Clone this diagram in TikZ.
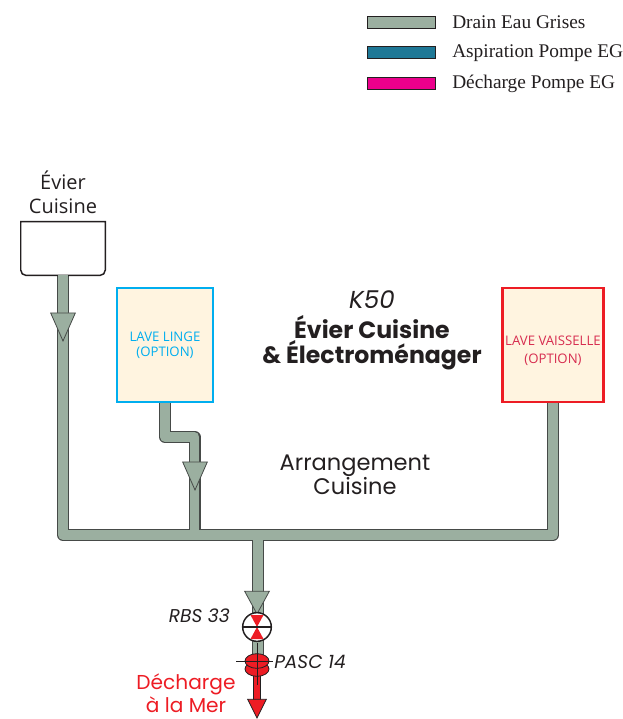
\documentclass[tikz,border=0pt]{standalone}
\usepackage{fontspec}
\setmainfont{Liberation Serif}
\newfontfamily\titrefont{Poppins}
\newfontfamily\myriadfont{Open Sans}
\usetikzlibrary{shapes.geometric,positioning}
\definecolor{drainfill}{RGB}{155,175,160}
\definecolor{drainedge}{RGB}{70,74,72}
\definecolor{aspfill}{RGB}{30,120,150}
\definecolor{decfill}{RGB}{236,0,140}
\definecolor{rouge}{RGB}{237,28,36}
\definecolor{creme}{RGB}{255,244,224}
\definecolor{cyanbox}{RGB}{0,174,239}
\definecolor{encre}{RGB}{35,31,32}
\definecolor{vaisstxt}{RGB}{215,45,80}

\begin{document}
\begin{tikzpicture}[
    x=0.75pt, y=-0.75pt,
    pipeout/.style={line width=9pt, drainedge, line join=round},
    pipein/.style={line width=7.4pt, drainfill, line join=round},
    legbar/.style={draw=encre, line width=0.6pt, minimum width=51pt, minimum height=9pt, inner sep=0pt},
    legtxt/.style={anchor=west, inner sep=0pt, font=\fontsize{14.5}{16}\selectfont, text=encre},
    appareil/.style={rectangle, line width=1.9pt, fill=creme, minimum width=72pt, minimum height=85.5pt,
               align=center, inner sep=0pt, font=\myriadfont\fontsize{9.9}{11.3}\selectfont},
    fleche/.style={isosceles triangle, isosceles triangle stretches, shape border rotate=-90, draw=drainedge,
               line width=0.6pt, fill=drainfill, minimum width=18.5pt, minimum height=21pt, inner sep=0pt},
    titre/.style={align=center, inner sep=0pt, text=encre, font=\titrefont\fontsize{16.9}{18.2}\selectfont},
    repere/.style={inner sep=0pt, text=encre, font=\titrefont\itshape\fontsize{13.9}{14}\selectfont}
]
\useasboundingbox (0,0) rectangle (623,719);

% legende
\node[legbar, fill=drainfill] (legdrain) at (401.5,22) {};
\node[legbar, fill=aspfill, below=13.5pt of legdrain] (legasp) {};
\node[legbar, fill=decfill, below=13.5pt of legasp] (legdec) {};
\node[legtxt] (txtdrain) at (452,22.5) {Drain Eau Grises};
\node[legtxt] (txtasp) at (452,53) {Aspiration Pompe EG};
\node[legtxt] (txtdec) at (452,83.5) {Décharge Pompe EG};

% appareils
\node[inner sep=0pt, minimum width=63pt, minimum height=40pt] (evier) at (63,248.5) {};
\node[appareil, draw=cyanbox, text=cyanbox] (linge) at (165,345) {LAVE LINGE\\(OPTION)};
\node[appareil, draw=rouge, minimum width=75.5pt] (vaisselle) at (553,345) {};
\node[appareil, draw=none, fill=none, minimum width=0pt, minimum height=0pt, text=vaisstxt, font=\myriadfont\fontsize{9.9}{13.5}\selectfont] (txtvaisselle) at (553,351) {LAVE VAISSELLE\\(OPTION)};
\coordinate (coudehaut) at (linge.south |- 0,437);
\coordinate (coudebas) at (194.5,437);
\coordinate (tlinge) at (194.5,535);
\coordinate (coingauche) at (evier.south |- tlinge);
\coordinate (coindroit) at (vaisselle.south |- tlinge);
\coordinate (tcentre) at (258,535);
\coordinate (sousvanne) at (258,660);

% tuyaux
\foreach \passe in {pipeout,pipein} {
    \draw[\passe] (evier.south) -- (coingauche) -- (coindroit) -- (vaisselle.south);
    \draw[\passe] (linge.south) -- (coudehaut) -- (coudebas) -- (tlinge);
    \draw[\passe] (tcentre) -- (sousvanne);
}

\draw[encre, line width=1.1pt, fill=white] (evier.north west) [rounded corners=4pt] -- (evier.south west) -- (evier.south east) [sharp corners] -- (evier.north east) -- cycle;
\node[align=center, inner sep=0pt, text=encre, font=\myriadfont\fontsize{15}{18}\selectfont, above=5.5pt of evier] (txtevier) {Évier\\Cuisine};
\draw[drainfill, line width=7pt] (evier.south) -- ++(0,3);

\node[fleche, anchor=apex] (flecheevier) at (63,342) {};
\node[fleche, anchor=apex] (flechelinge) at (195,491) {};
\node[fleche, anchor=apex, minimum height=17pt] (flechevanne) at (257,615) {};

% vanne RBS
\node[circle, draw=encre, line width=1.1pt, fill=white, minimum size=21.5pt, inner sep=0pt] (vanne) at (257,627) {};
\fill[rouge] (vanne.center) -- (250.5,615) -- (263.5,615) -- cycle;
\fill[rouge] (vanne.center) -- (250.5,639) -- (263.5,639) -- cycle;
\draw[encre, line width=1.1pt] (vanne.west) -- (vanne.east);
\node[repere, anchor=east] (txtrbs) at (230,615.5) {RBS 33};

% sortie
\draw[encre, line width=5.6pt] (257,672) -- (257,703);
\draw[rouge, line width=4.6pt] (257,672) -- (257,703);
\node[ellipse, draw=encre, line width=0.6pt, fill=rouge, minimum width=18pt, minimum height=11pt, inner sep=0pt] (pasbas) at (257,669) {};
\node[ellipse, draw=encre, line width=0.6pt, fill=rouge, minimum width=18pt, minimum height=11pt, inner sep=0pt] (pashaut) at (257,661) {};
\draw[encre, line width=0.5pt] (236,661) -- (273,661);
\draw[encre, line width=0.5pt] (257,643) -- (257,685);
\node[repere, anchor=west] (txtpasc) at (274,662) {PASC 14};
\node[fleche, anchor=apex, fill=rouge, draw=encre, minimum width=14pt, minimum height=14pt] (flechemer) at (257,719) {};

\node[titre, text=rouge, font=\titrefont\fontsize{15.1}{17.5}\selectfont] (txtmer) at (186,693) {Décharge\\à la Mer};

% textes
\node[titre, font=\titrefont\bfseries\fontsize{17.7}{18.7}\selectfont] (txttitre) at (372,343) {Évier Cuisine\\\& Électroménager};
\node[titre, font=\titrefont\itshape\fontsize{18.4}{18}\selectfont, above=5pt of txttitre] (txtk) {K50};
\node[titre] (txtarr) at (355,475) {Arrangement\\Cuisine};
\end{tikzpicture}
\end{document}
